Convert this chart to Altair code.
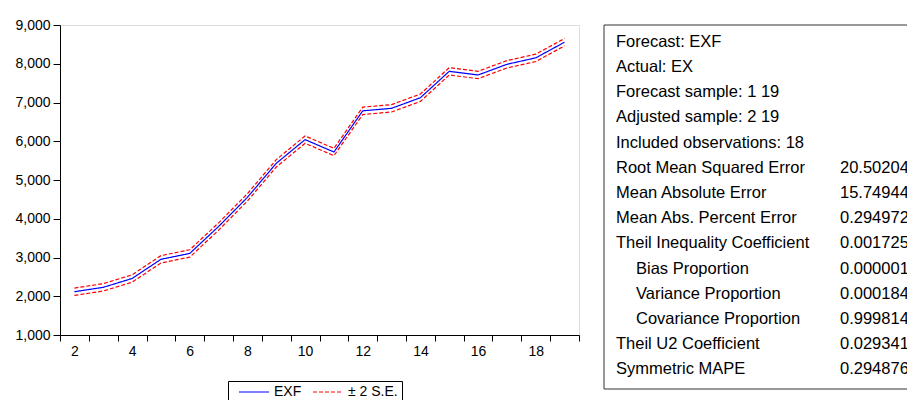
import altair as alt
import pandas as pd

# Forecast evaluation: static forecast EXF with a +/- 2 S.E. band
obs = list(range(2, 20))
exf = [2117, 2230, 2458, 2953, 3105, 3800, 4552, 5430, 6042, 5722,
       6785, 6850, 7124, 7805, 7710, 7986, 8152, 8557]
se = 47.5  # forecast standard error

series_names = ["EXF", "± 2 S.E."]

rows = []
for o, v in zip(obs, exf):
    rows.append({"obs": o, "value": v, "series": "EXF", "band": "fc"})
    rows.append({"obs": o, "value": v + 2 * se, "series": "± 2 S.E.", "band": "up"})
    rows.append({"obs": o, "value": v - 2 * se, "series": "± 2 S.E.", "band": "lo"})
lines_df = pd.DataFrame(rows)

# Forecast statistics panel
stat_labels = [
    "Forecast: EXF", "Actual: EX", "Forecast sample: 1 19", "Adjusted sample: 2 19",
    "Included observations: 18", "Root Mean Squared Error", "Mean Absolute Error",
    "Mean Abs. Percent Error", "Theil Inequality Coefficient", "Bias Proportion",
    "Variance Proportion", "Covariance Proportion", "Theil U2 Coefficient",
    "Symmetric MAPE",
]
stat_values = ["", "", "", "", "", "20.50204", "15.74944", "0.294972", "0.001725",
               "0.000001", "0.000184", "0.999814", "0.029341", "0.294876"]
stat_indent = [0, 0, 0, 0, 0, 0, 0, 0, 0, 1, 1, 1, 0, 0]
stats_df = pd.DataFrame({
    "row": list(range(len(stat_labels))),
    "label": stat_labels,
    "value": stat_values,
    "indent": stat_indent,
})

FONT = "Liberation Sans"
PANEL_SIZE = 16.5


def series_legend():
    # short horizontal stroke symbols in a boxed, horizontal legend
    return alt.Legend(
        orient="none", legendX=168, legendY=356, direction="horizontal",
        title=None, strokeColor="black", padding=4,
        symbolType="M-3,0H3", symbolSize=100, symbolStrokeWidth=1,
        labelFont=FONT, labelFontSize=14, labelColor="black",
        columnPadding=4, labelOffset=13, symbolOffset=15,
    )


base = alt.Chart(lines_df).mark_line(strokeWidth=1.2).encode(
    x=alt.X(
        "obs:O",
        bandPosition=0.5,
        scale=alt.Scale(type="band", paddingInner=0, paddingOuter=0),
        axis=alt.Axis(
            title=None, labelAngle=0, tickBand="extent", tickSize=6,
            labelExpr="datum.value % 2 == 0 ? datum.label : ''",
            labelFont=FONT, labelFontSize=14, labelColor="black",
            tickColor="black", domainColor="black", labelPadding=3,
        ),
    ),
    y=alt.Y(
        "value:Q",
        scale=alt.Scale(domain=[1000, 9000], nice=False, zero=False),
        axis=alt.Axis(
            title=None, values=list(range(1000, 9001, 1000)), format=",d",
            grid=False, tickSize=7, labelFont=FONT, labelFontSize=14,
            labelColor="black", tickColor="black", domainColor="black",
            labelPadding=3,
        ),
    ),
    color=alt.Color(
        "series:N",
        scale=alt.Scale(domain=series_names, range=["#0000ff", "#ff0000"]),
        legend=series_legend(),
    ),
    strokeDash=alt.StrokeDash(
        "series:N",
        scale=alt.Scale(domain=series_names, range=[[1, 0], [4, 2]]),
        legend=series_legend(),
    ),
    detail="band:N",
)

row_scale = alt.Scale(type="point", domain=list(range(len(stat_labels))),
                      range=[16.7, 344.3], padding=0)

box = alt.Chart(pd.DataFrame({"k": [0]})).mark_rect(
    fill=None, stroke="#333333", strokeWidth=1
).encode(
    x=alt.value(544), x2=alt.value(880), y=alt.value(0), y2=alt.value(364)
)

label_main = alt.Chart(stats_df).transform_filter("datum.indent == 0").mark_text(
    align="left", baseline="middle", font=FONT, fontSize=PANEL_SIZE, color="black"
).encode(
    x=alt.value(556),
    y=alt.Y("row:O", scale=row_scale, axis=None),
    text="label:N",
)

label_sub = alt.Chart(stats_df).transform_filter("datum.indent == 1").mark_text(
    align="left", baseline="middle", font=FONT, fontSize=PANEL_SIZE, color="black"
).encode(
    x=alt.value(576),
    y=alt.Y("row:O", scale=row_scale, axis=None),
    text="label:N",
)

values_txt = alt.Chart(stats_df).mark_text(
    align="left", baseline="middle", font=FONT, fontSize=PANEL_SIZE, color="black"
).encode(
    x=alt.value(780),
    y=alt.Y("row:O", scale=row_scale, axis=None),
    text="value:N",
)

chart = alt.layer(base, box, label_main, label_sub, values_txt).resolve_scale(
    y="independent"
).properties(
    width=519,
    height=310,
    autosize=alt.AutoSizeParams(type="none"),
    padding={"left": 60, "top": 25, "right": 328, "bottom": 65},
).configure_view(
    stroke="#222222", strokeWidth=1
).configure(background="white")

chart.save("out.html", embed_options={"renderer": "svg", "actions": False})
